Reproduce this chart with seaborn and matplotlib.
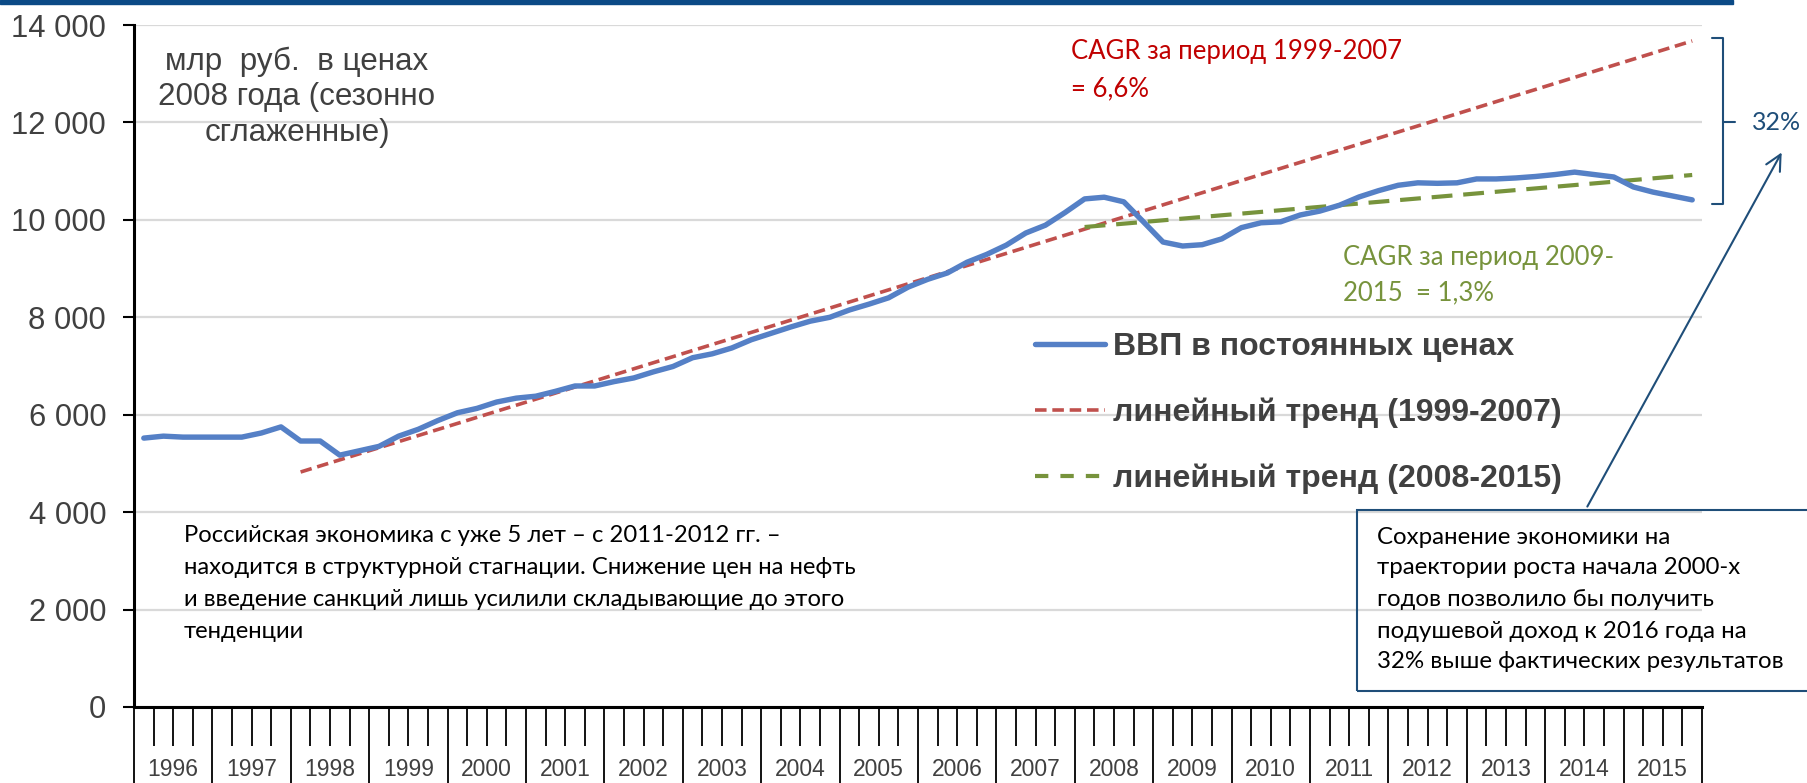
import numpy as np
import pandas as pd
import matplotlib
matplotlib.use("Agg")
import matplotlib.pyplot as plt
import matplotlib.transforms as mtransforms
from matplotlib.patches import Rectangle
from matplotlib.lines import Line2D
import seaborn as sns

# ---------------- data ----------------
years = list(range(1996, 2016))
gdp = [
    5520, 5560, 5540, 5540,      # 1996
    5540, 5540, 5625, 5750,      # 1997
    5460, 5460, 5170, 5260,      # 1998
    5350, 5560, 5700, 5880,      # 1999
    6040, 6130, 6260, 6340,      # 2000
    6380, 6480, 6590, 6590,      # 2001
    6680, 6755, 6880, 6990,      # 2002
    7170, 7250, 7370, 7540,      # 2003
    7670, 7800, 7920, 8000,      # 2004
    8150, 8270, 8400, 8620,      # 2005
    8780, 8910, 9130, 9290,      # 2006
    9480, 9730, 9890, 10150,     # 2007
    10430, 10465, 10370, 9960,   # 2008
    9545, 9463, 9490, 9610,      # 2009
    9840, 9940, 9960, 10100,     # 2010
    10180, 10300, 10470, 10600,  # 2011
    10710, 10760, 10750, 10760,  # 2012
    10840, 10840, 10860, 10890,  # 2013
    10930, 10980, 10930, 10880,  # 2014
    10675, 10570, 10490, 10410,  # 2015
]
quarters = [f"{y}Q{q}" for y in years for q in range(1, 5)]

trend1_q = ["1998Q1", "2015Q4"]
trend1_v = [4824, 13673]
trend2_q = ["2008Q1", "2015Q4"]
trend2_v = [9853, 10921]

yticks = [0, 2000, 4000, 6000, 8000, 10000, 12000, 14000]

label_gdp = "ВВП в постоянных ценах"
label_t1 = "линейный тренд (1999-2007)"
label_t2 = "линейный тренд (2008-2015)"

# ---------------- style ----------------
sns.set_theme(style="white")
plt.rcParams['font.family'] = ['Liberation Sans', 'DejaVu Sans']

BLUE = "#5580C6"
RED = "#C0504D"
GREEN = "#77933C"
NAVY = "#1F4E79"
GREY = "#404040"
CAL = ['Lato', 'DejaVu Sans']

W, H = 1808, 783
fig = plt.figure(figsize=(W / 100, H / 100), dpi=100)
fig.patch.set_facecolor("white")
L, R, T, B = 134, 1702, 25, 707
ax = fig.add_axes([L / W, 1 - B / H, (R - L) / W, (B - T) / H])

pos = {q: i for i, q in enumerate(quarters)}
df = pd.DataFrame({"x": [pos[q] for q in quarters], "v": gdp})
t1 = pd.DataFrame({"x": [pos[q] for q in trend1_q], "v": trend1_v})
t2 = pd.DataFrame({"x": [pos[q] for q in trend2_q], "v": trend2_v})

sns.lineplot(data=t1, x="x", y="v", ax=ax, color=RED, lw=2.6, zorder=3)
sns.lineplot(data=t2, x="x", y="v", ax=ax, color=GREEN, lw=3.0, zorder=3)
sns.lineplot(data=df, x="x", y="v", ax=ax, color=BLUE, lw=3.9, zorder=4)
ax.lines[0].set_dashes((3.2, 1.6))
ax.lines[1].set_dashes((5.0, 2.6))

ax.set_xlim(-0.5, len(quarters) - 0.5)
ax.set_ylim(0, 14000)
ax.set_xlabel("")
ax.set_ylabel("")

# y axis
ax.set_yticks(yticks)
ax.set_yticklabels([f"{v:,}".replace(",", " ") for v in yticks])
ax.tick_params(axis="y", which="major", left=True, length=8, width=1.5,
               color="black", pad=12, labelsize=22.3, labelcolor=GREY)
ax.yaxis.grid(True, color="#d9d9d9", lw=1.6)
ax.xaxis.grid(False)
ax.set_axisbelow(True)
for s in ["top", "right"]:
    ax.spines[s].set_visible(False)
for s in ["left", "bottom"]:
    ax.spines[s].set_visible(True)
    ax.spines[s].set_color("black")
    ax.spines[s].set_linewidth(2.2)

# x axis: quarter ticks, year boundaries long
ax.set_xticks(np.arange(-0.5, len(quarters), 4))
ax.set_xticks(np.arange(-0.5, len(quarters), 1), minor=True)
ax.tick_params(axis="x", which="major", bottom=True, length=58, width=1.3,
               color="black", labelbottom=False)
ax.tick_params(axis="x", which="minor", bottom=True, length=28, width=1.3,
               color="black", labelbottom=False)
trans = mtransforms.blended_transform_factory(ax.transData, ax.transAxes)
for k, y in enumerate(years):
    ax.text(4 * k + 1.5, (B - 770) / (B - T), str(y), transform=trans,
            ha="center", va="center", fontsize=16.5, color=GREY)

# legend
handles = [
    Line2D([], [], color=BLUE, lw=3.9),
    Line2D([], [], color=RED, lw=2.6, dashes=(3.2, 1.6)),
    Line2D([], [], color=GREEN, lw=3.0, dashes=(3.2, 2.9)),
]
leg = fig.legend(handles, [label_gdp, label_t1, label_t2],
                 loc="center left", bbox_to_anchor=(1035 / W, 1 - 413 / H),
                 frameon=False, borderpad=0, borderaxespad=0,
                 handlelength=2.2, handletextpad=0.25, labelspacing=1.12,
                 prop={"family": "Liberation Sans", "weight": "bold", "size": 23})
for t in leg.get_texts():
    t.set_color(GREY)


def line_text(x, y, s, **kw):
    fig.text(x / W, 1 - y / H, s, **kw)


# unit label
for s, y in zip(["млр  руб.  в ценах", "2008 года (сезонно", "сглаженные)"],
                [62, 97, 133]):
    line_text(297, y, s, ha="center", va="center", fontsize=22.6, color=GREY)

# CAGR labels
for s, y in zip(["CAGR за период 1999-2007", "= 6,6%"], [52, 89]):
    line_text(1071, y, s, ha="left", va="center", fontsize=18.5,
              color="#C00000", family=CAL)
for s, y in zip(["CAGR за период 2009-", "2015  = 1,3%"], [257, 293]):
    line_text(1343, y, s, ha="left", va="center", fontsize=18.5,
              color=GREEN, family=CAL)

# bottom-left note
note = ["Российская экономика с уже 5 лет – с 2011-2012 гг. –",
        "находится в структурной стагнации. Снижение цен на нефть",
        "и введение санкций лишь усилили складывающие до этого",
        "тенденции"]
for s, y in zip(note, [536, 568, 600, 632]):
    line_text(184, y, s, ha="left", va="center", fontsize=17.2,
              color="black", family=CAL)

# right box
box_lines = ["Сохранение экономики на",
             "траектории роста начала 2000-х",
             "годов позволило бы получить",
             "подушевой доход к 2016 года на",
             "32% выше фактических результатов"]
for s, y in zip(box_lines, [537, 568, 600, 631, 662]):
    line_text(1377, y, s, ha="left", va="center", fontsize=17.3,
              color="black", family=CAL)
fig.patches.append(Rectangle((1357 / W, 1 - 691 / H), (1815 - 1357) / W, 181 / H,
                             transform=fig.transFigure, facecolor="none",
                             edgecolor=NAVY, lw=1.5, zorder=5))

# arrow to 32%
fig.add_artist(matplotlib.patches.FancyArrowPatch(
    (1586 / W, 1 - 509 / H), (1783 / W, 1 - 150 / H),
    transform=fig.transFigure, arrowstyle="->", mutation_scale=28,
    color=NAVY, lw=1.5))

# bracket
fig.add_artist(Line2D([1712 / W, 1723 / W, 1723 / W, 1712 / W],
                      [1 - 38 / H, 1 - 38 / H, 1 - 204 / H, 1 - 204 / H],
                      transform=fig.transFigure, color=NAVY, lw=1.5))
fig.add_artist(Line2D([1723 / W, 1735 / W], [1 - 122 / H, 1 - 122 / H],
                      transform=fig.transFigure, color=NAVY, lw=1.5))
line_text(1777, 122, "32%", ha="center", va="center", fontsize=18,
          color=NAVY, family=CAL)

# top bar
fig.patches.append(Rectangle((0, 1 - 4 / H), 1733 / W, 4 / H,
                             transform=fig.transFigure, color="#0B4A86", zorder=6))

fig.savefig("out.png", dpi=100)
